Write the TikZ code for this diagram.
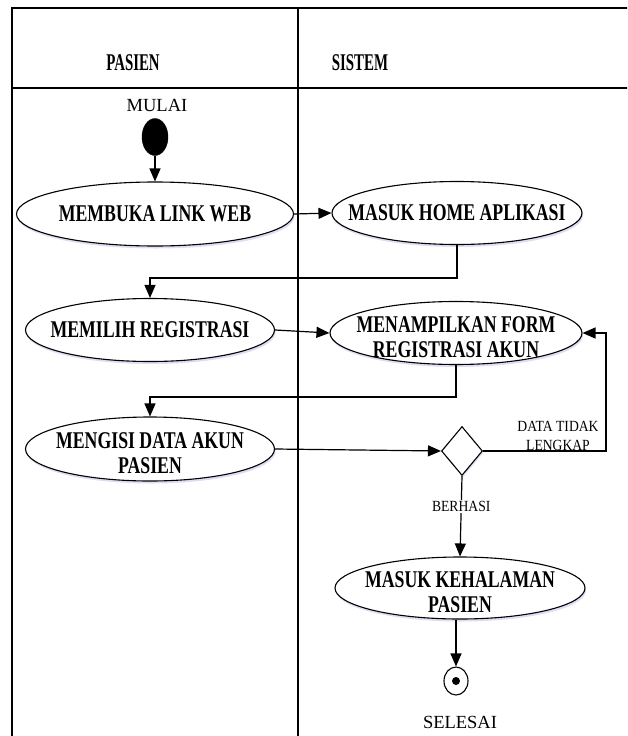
\documentclass[tikz,border=0pt]{standalone}
\usepackage{fontspec}
\setmainfont{Liberation Serif}
\newfontfamily\etfont[FakeStretch=0.74]{Liberation Serif}
\newfontfamily\hdfont[FakeStretch=0.62]{Liberation Serif}
\newfontfamily\lbfont[FakeStretch=0.88]{Liberation Serif}
\usetikzlibrary{arrows.meta,shapes.geometric,shadows}
\begin{document}
\begin{tikzpicture}[x=1pt,y=-1pt,
  arr/.style={line width=1.2pt,-{Triangle[length=13pt,width=11pt]}},
  lane/.style={line width=1.8pt},
  act/.style={ellipse,draw,line width=1.1pt,fill=white,inner sep=0pt,
    drop shadow={fill=blue!50!gray,opacity=0.18,shadow xshift=1pt,shadow yshift=-2.5pt}},
  etext/.style={align=center,font=\etfont\bfseries\fontsize{24}{25}\selectfont},
  htext/.style={font=\hdfont\bfseries\fontsize{24}{25}\selectfont},
  ltext/.style={align=center,font=\lbfont\fontsize{15.5}{19}\selectfont,inner sep=1pt},
  ttext/.style={font=\fontsize{18.5}{21}\selectfont,inner sep=0pt},
  decision/.style={diamond,draw,line width=1.1pt,fill=white,inner sep=0pt,
    minimum width=41pt,minimum height=49pt,
    drop shadow={fill=blue!50!gray,opacity=0.15,shadow xshift=1pt,shadow yshift=-2pt}}]
\useasboundingbox (0,0) rectangle (627,736);
\clip (0,0) rectangle (627,736);
% swimlanes
\draw[lane] (12,745) -- (12,8) -- (640,8);
\draw[lane] (12,88) -- (640,88);
\draw[lane] (298,8) -- (298,745);
\node[htext] (hp) at (133,63) {PASIEN};
\node[htext] (hs) at (360,63) {SISTEM};
% start
\node[ttext] (mulai) at (157,105) {MULAI};
\node[ellipse,fill=black,draw,minimum width=26pt,minimum height=37pt,inner sep=0pt] (start) at (155,137) {};
% activities
\node[act,minimum width=277pt,minimum height=64pt] (membuka) at (155,214) {};
\node[etext] at (membuka) {MEMBUKA LINK WEB};
\node[act,minimum width=250pt,minimum height=63pt] (home) at (457,213) {};
\node[etext] at (home) {MASUK HOME APLIKASI};
\node[act,minimum width=249pt,minimum height=63pt] (memilih) at (150,330) {};
\node[etext] at (memilih) {MEMILIH REGISTRASI};
\node[act,minimum width=252pt,minimum height=63pt] (form) at (456,333) {};
\node[etext] at ([yshift=-4pt]form.center) {MENAMPILKAN FORM\\REGISTRASI AKUN};
\node[act,minimum width=249pt,minimum height=64pt] (mengisi) at (150,449) {};
\node[etext] at ([yshift=-4pt]mengisi.center) {MENGISI DATA AKUN\\PASIEN};
\node[decision] (dec) at (462,451) {};
\node[act,minimum width=250pt,minimum height=62pt] (kehal) at (460,588) {};
\node[etext] at ([yshift=-4pt]kehal.center) {MASUK KEHALAMAN\\PASIEN};
% end
\node[ellipse,draw,line width=1.1pt,minimum width=24pt,minimum height=28pt,inner sep=0pt] (end) at (456,681) {};
\node[circle,fill=black,minimum size=8pt,inner sep=0pt] (enddot) at (end.center) {};
\node[ttext] (selesai) at (460,722) {SELESAI};
% connectors
\coordinate (c1) at (606,451);
\draw[arr] (start) -- (membuka.north);
\draw[arr] (membuka.east) -- (home.west);
\draw[arr] (home.south) -- ++(0,33) -| (memilih.north);
\draw[arr] (memilih.east) -- (form.west);
\draw[arr] (form.south) -- ++(0,32) -| (mengisi.north);
\draw[arr] (mengisi.east) -- (dec.west);
\draw[arr] (dec.east) -- (c1) |- (form.east);
\node[ltext,anchor=south] (tidak) at (558,452) {DATA TIDAK\\LENGKAP};
\draw[arr] (dec.south) -- node[ltext,fill=white,pos=0.38] (berhasi) {BERHASI} (kehal.north);
\draw[arr] (kehal.south -| end.north) -- (end.north);
\end{tikzpicture}
\end{document}
